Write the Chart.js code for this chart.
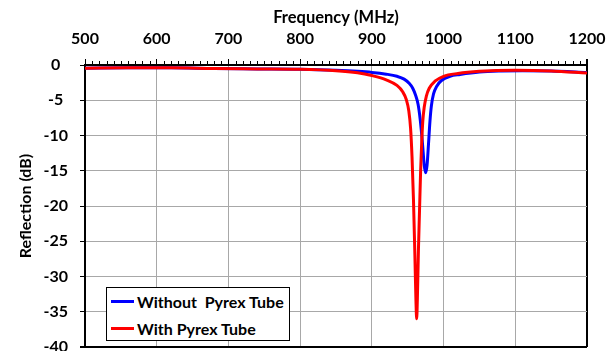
<!DOCTYPE html>
<html>
<head>
<meta charset="utf-8">
<script src="https://cdn.jsdelivr.net/npm/chart.js@4/dist/chart.umd.min.js"></script>
<style>
	html, body { margin: 0; padding: 0; background: #fff; overflow: hidden; }
	#wrap { position: relative; width: 606px; height: 351px; overflow: hidden; }
	#legend {
		position: absolute; left: 106px; top: 287px; width: 182px; height: 52px;
		border: 1px solid #000; background: #fff;
		font: bold 16px Lato, sans-serif; color: #000;
	}
	#legend .row { position: absolute; left: 4px; display: flex; align-items: center; white-space: pre; height: 20px; }
	#legend .swatch { width: 23px; height: 3px; margin-right: 3px; }
</style>
</head>
<body>
<div id="wrap">
	<canvas id="reflectionChart" width="606" height="362"></canvas>
	<div id="legend"></div>
</div>
<script>
// Measured reflection, without the tube
var freqWithout = [500, 560, 620, 680, 740, 800, 850, 880, 900, 920, 935, 945, 952, 957, 961, 964.5, 967.5, 970.5, 973, 975,
	977, 979, 981, 983, 986, 990.5, 997, 1009, 1023, 1050, 1080, 1110, 1150, 1200];
var reflWithout = [-0.45, -0.4, -0.4, -0.5, -0.55, -0.6, -0.75, -0.9, -1.05, -1.3, -1.6, -2.0, -2.6, -3.3, -4.3, -5.6, -7.8, -11.0, -14.2, -15.3,
	-14.2, -11.2, -8.0, -5.8, -4.1, -3.0, -2.2, -1.6, -1.35, -1.0, -0.85, -0.8, -0.85, -1.05];

// Measured reflection, with the Pyrex tube in place
var freqWith = [500, 560, 620, 680, 740, 800, 850, 880, 900, 920, 935, 943, 948, 951.5, 954, 956, 958, 960, 961.5, 962.5,
	963.5, 965, 966.5, 968, 969.5, 971, 973, 976, 980, 988, 1000, 1020, 1050, 1100, 1150, 1200];
var reflWith = [-0.45, -0.4, -0.4, -0.5, -0.55, -0.6, -0.8, -1.1, -1.5, -2.1, -2.9, -3.8, -4.9, -6.5, -9, -13, -19, -27, -33.5, -36,
	-33, -26, -20.5, -15, -11, -8, -6, -4.4, -3.3, -2.3, -1.6, -1.2, -0.9, -0.75, -0.85, -1.15];

var seriesNames = ['Without  Pyrex Tube', 'With Pyrex Tube'];
var seriesColors = ['#0000ff', '#ff0000'];

// Axis ranges
var freqRange = [500, 1200], freqStep = 100, freqMinorStep = 10;
var reflRange = [-40, 0], reflStep = 5;

var FONT = 'Lato';

function toPoints(xs, ys) {
	var pts = [];
	for (var i = 0; i < xs.length; i++) { pts.push({x: xs[i], y: ys[i]}); }
	return pts;
}

// Small upward ticks every 10 MHz along the top axis
var minorTicksPlugin = {
	id: 'minorTicks',
	afterDraw: function(chart) {
		var sx = chart.scales.x, top = chart.chartArea.top, c = chart.ctx;
		c.save();
		c.strokeStyle = '#000';
		c.lineWidth = 1;
		for (var f = freqRange[0] + freqMinorStep; f < freqRange[1]; f += freqMinorStep) {
			if (f % freqStep === 0) { continue; }
			var px = Math.round(sx.getPixelForValue(f)) + 0.5;
			c.beginPath();
			c.moveTo(px, top);
			c.lineTo(px, top - 4);
			c.stroke();
		}
		c.restore();
	}
};

function buildLegend(chart) {
	var el = document.getElementById('legend');
	var html = '';
	chart.data.datasets.forEach(function(ds, i) {
		html += "<div class='row' style='top:" + (3 + i * 27) + "px'>" +
			"<span class='swatch' style='background:" + ds.borderColor + "'></span>" + ds.label + "</div>";
	});
	el.innerHTML = html;
}

// plain numbers, no thousands separator
function plainLabel(value) { return String(value); }

var chart = new Chart(document.getElementById('reflectionChart'), {
	type: 'line',
	data: {
		datasets: [
			{ label: seriesNames[0], data: toPoints(freqWithout, reflWithout), borderColor: seriesColors[0], order: 1 },
			{ label: seriesNames[1], data: toPoints(freqWith, reflWith), borderColor: seriesColors[1], order: 0 }
		]
	},
	options: {
		responsive: false,
		animation: false,
		layout: { padding: { left: 0, right: 19, top: 0, bottom: 15 } },
		elements: {
			line: { borderWidth: 3, cubicInterpolationMode: 'monotone', fill: false },
			point: { radius: 0 }
		},
		plugins: { legend: { display: false }, tooltip: { enabled: false } },
		scales: {
			x: {
				type: 'linear', position: 'top',
				min: freqRange[0], max: freqRange[1],
				ticks: { stepSize: freqStep, color: '#000', padding: 11, callback: plainLabel,
					font: { family: FONT, size: 16, weight: 'bold' } },
				grid: {
					tickLength: 6, tickColor: '#000',
					color: function(ctx) { return ctx.tick && ctx.tick.value === freqRange[1] ? '#000' : '#a8a8a8'; },
					lineWidth: function(ctx) { return ctx.tick && ctx.tick.value === freqRange[1] ? 2 : 1; }
				},
				border: { color: '#000', width: 2 },
				title: { display: true, text: 'Frequency (MHz)', color: '#000', padding: { top: 8, bottom: 0 },
					font: { family: FONT, size: 16.5, weight: 'bold' } },
				afterFit: function(scale) {
					scale.height = 65;
					scale.paddingLeft = 0;
					scale.paddingRight = 0;
				}
			},
			y: {
				type: 'linear', position: 'left',
				min: reflRange[0], max: reflRange[1],
				ticks: { stepSize: reflStep, color: '#000', padding: 12, crossAlign: 'center', callback: plainLabel,
					font: { family: FONT, size: 16, weight: 'bold' } },
				grid: {
					tickLength: 5, tickColor: '#000',
					color: function(ctx) { return ctx.tick && ctx.tick.value === reflRange[0] ? '#000' : '#a8a8a8'; },
					lineWidth: function(ctx) { return ctx.tick && ctx.tick.value === reflRange[0] ? 2 : 1; }
				},
				border: { color: '#000', width: 2 },
				title: { display: true, text: 'Reflection (dB)', color: '#000', padding: { top: 16, bottom: 0 },
					font: { family: FONT, size: 16, weight: 'bold' } },
				afterFit: function(scale) {
					scale.width = 85;
					scale.paddingTop = 0;
					scale.paddingBottom = 0;
				}
			}
		}
	},
	plugins: [minorTicksPlugin]
});

buildLegend(chart);
</script>
</body>
</html>
